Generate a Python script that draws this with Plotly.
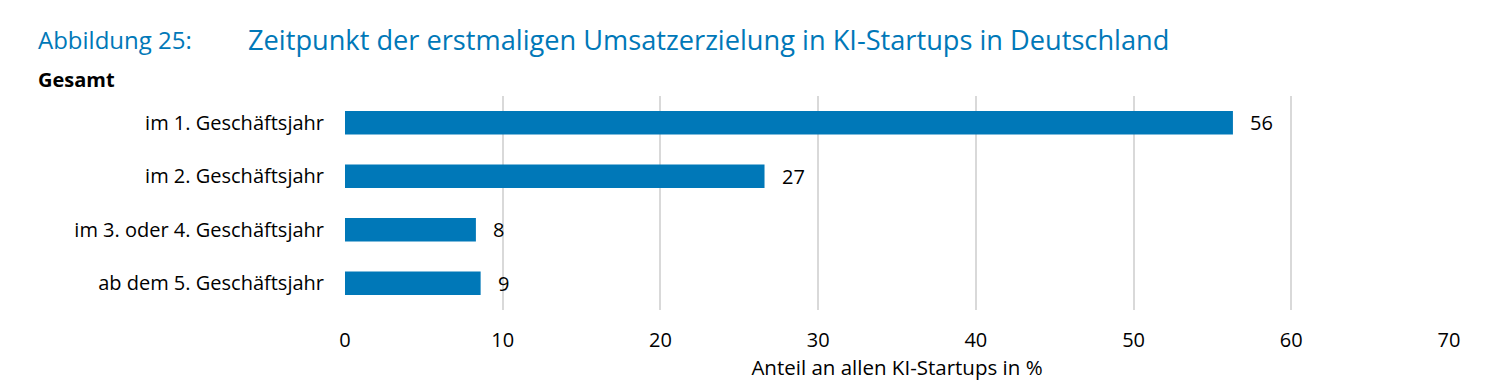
import plotly.graph_objects as go

categories = ["im 1. Geschäftsjahr", "im 2. Geschäftsjahr", "im 3. oder 4. Geschäftsjahr", "ab dem 5. Geschäftsjahr"]
values = [56.3, 26.6, 8.3, 8.6]
labels = ["56", "27", "8", "9"]
x_ticks = [0, 10, 20, 30, 40, 50, 60, 70]

FONT = "Open Sans"
BLUE = "#0078B8"

fig = go.Figure()
fig.add_trace(go.Bar(
    y=categories, x=values, orientation="h",
    marker=dict(color=BLUE, line=dict(width=0)),
    width=0.44, hoverinfo="skip",
))

for c, v, t in zip(categories, values, labels):
    fig.add_annotation(x=v, y=c, text=t, showarrow=False, xanchor="left",
                       xshift=15, font=dict(family=FONT, size=20, color="#000"))

fig.add_annotation(xref="paper", yref="paper", x=-0.2795, y=1.262, xanchor="left", yanchor="middle",
                   text="Abbildung 25:", showarrow=False, font=dict(family=FONT, size=24, color=BLUE))
fig.add_annotation(xref="paper", yref="paper", x=-0.0895, y=1.262, xanchor="left", yanchor="middle",
                   text="Zeitpunkt der erstmaligen Umsatzerzielung in KI-Startups in Deutschland",
                   showarrow=False, font=dict(family=FONT, size=27.2, color=BLUE))
fig.add_annotation(xref="paper", yref="paper", x=-0.2795, y=1.075, xanchor="left", yanchor="middle",
                   text="<b>Gesamt</b>", showarrow=False, font=dict(family=FONT, size=20, color="#000"))

fig.update_layout(
    width=1506, height=390,
    margin=dict(l=337, r=65, t=88, b=88),
    paper_bgcolor="white", plot_bgcolor="white",
    showlegend=False,
    font=dict(family=FONT, size=20, color="#000"),
)
fig.update_xaxes(range=[0, 70], tickvals=x_ticks, showgrid=True, gridcolor="#d9d9d9", gridwidth=2,
                 zeroline=False, showline=False, ticks="", ticklabelstandoff=16,
                 tickfont=dict(family=FONT, size=20),
                 title=dict(text="Anteil an allen KI-Startups in %", standoff=6,
                            font=dict(family=FONT, size=20.5)))
fig.update_yaxes(autorange="reversed", showgrid=False, zeroline=False, showline=False, ticks="",
                 ticklabelstandoff=20, tickfont=dict(family=FONT, size=20))

fig.write_html("out.html")
